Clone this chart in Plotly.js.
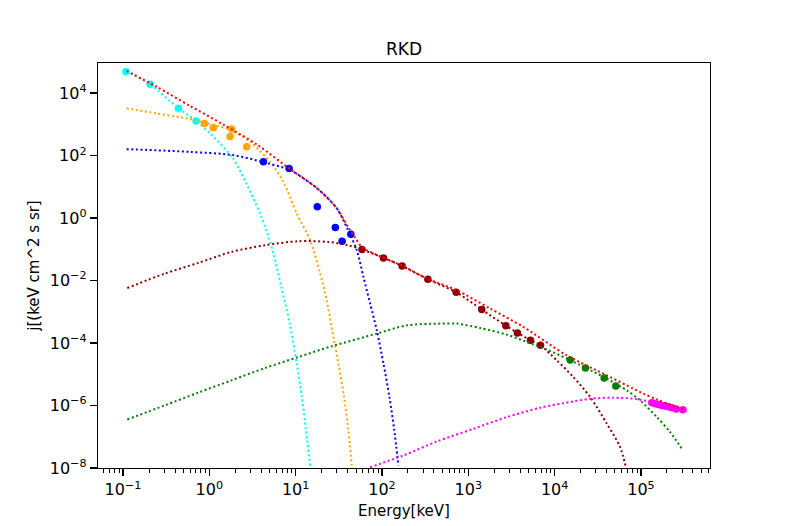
<!DOCTYPE html>
<html>
<head>
<meta charset="utf-8">
<script src="https://cdn.plot.ly/plotly-3.0.1.min.js"></script>
<style>
  html, body { margin: 0; padding: 0; background: #fff; }
  #chart { width: 789px; height: 526px; }
</style>
</head>
<body>
<div id="chart"></div>
<script>
// ---------- data points (markers) ----------
const cyanPtsX = [0.108, 0.206, 0.438, 0.702];
const cyanPtsY = [4.85e4, 1.91e4, 3.26e3, 1.28e3];

const orangePtsX = [0.875, 1.112, 1.82, 1.738, 2.71];
const orangePtsY = [1076, 778, 706, 412, 191];

const bluePtsX = [4.23, 8.40, 17.8, 28.8, 34.5, 43.6];
const bluePtsY = [63.2, 38.9, 2.29, 0.50, 0.182, 0.305];

const maroonPtsX = [58.7, 104, 171, 340, 723, 1432, 2723, 3707, 5248, 6855];
const maroonPtsY = [0.0986, 0.0530, 0.0294, 0.0110, 4.22e-3, 1.18e-3, 3.61e-4, 2.09e-4, 1.22e-4, 8.43e-5];

const greenPtsX = [15140, 22750, 37500, 51170];
const greenPtsY = [2.85e-5, 1.58e-5, 7.55e-6, 4.19e-6];

const magentaPtsX = [1.337e5, 1.462e5, 1.596e5, 1.746e5, 1.905e5, 2.084e5, 2.280e5, 2.559e5, 3.062e5];
const magentaPtsY = [1.23e-6, 1.14e-6, 1.08e-6, 1.01e-6, 9.57e-7, 9.16e-7, 8.49e-7, 7.67e-7, 7.33e-7];

// ---------- model curves (dotted) ----------
const cyanCurveX = [0.110, 0.206, 0.438, 0.702, 1.02, 1.88, 2.71, 3.87, 4.58, 5.52, 6.82, 8.55, 10.3, 11.8, 13.2, 14.7];
const cyanCurveY = [4.9e4, 1.91e4, 3.26e3, 1.28e3, 515, 81, 12.0, 1.40, 0.409, 0.0733, 6.24e-3, 4.19e-4, 2.19e-5, 1.86e-6, 1.59e-7, 1.20e-8];

const orangeCurveX = [0.110, 0.245, 0.597, 1.74, 2.96, 5.05, 7.19, 10.3, 14.7, 19.2, 22.9, 27.4, 31.3, 36.4, 40.8, 44.7];
const orangeCurveY = [3.26e3, 2.25e3, 1.48e3, 656, 277, 63.2, 14.5, 1.40, 0.196, 0.0171, 2.34e-3, 1.56e-4, 2.19e-5, 1.86e-6, 1.59e-7, 1.20e-8];

const blueCurveX = [0.110, 0.597, 1.88, 4.19, 8.61, 17.6, 29.9, 40.5, 51.1, 61.0, 72.8, 87.1, 104, 122, 139, 155];
const blueCurveY = [161, 132, 104, 61.9, 34.3, 9.08, 2.07, 0.409, 0.0935, 0.0130, 1.87e-3, 2.55e-4, 2.19e-5, 1.86e-6, 1.59e-7, 1.20e-8];

const maroonCurveX = [0.112, 0.304, 0.740, 1.80, 4.39, 10.7, 23.7, 40.5, 58.7, 104, 171, 340, 723, 1432, 2723, 5248, 6855, 10600, 16500, 25800, 40300, 57400, 66800];
const maroonCurveY = [5.79e-3, 0.0167, 0.0366, 0.0826, 0.135, 0.182, 0.173, 0.135, 0.0986, 0.0530, 0.0294, 0.0110, 4.22e-3, 1.18e-3, 3.61e-4, 1.22e-4, 8.43e-5, 2.79e-5, 8.13e-6, 1.86e-6, 2.61e-7, 4.65e-8, 1.06e-8];

const greenCurveX = [0.112, 0.304, 0.740, 1.80, 4.39, 10.7, 25.9, 87.1, 194, 471, 736, 1370, 2790, 4760, 8130, 15100, 40300, 68700, 97900, 153000, 218000, 303000];
const greenCurveY = [3.58e-7, 1.01e-6, 2.57e-6, 6.37e-6, 1.58e-5, 3.56e-5, 7.83e-5, 2.00e-4, 3.69e-4, 4.19e-4, 4.19e-4, 3.03e-4, 1.86e-4, 1.08e-4, 6.14e-5, 2.85e-5, 7.23e-6, 3.05e-6, 1.46e-6, 4.25e-7, 1.40e-7, 3.83e-8];

const magentaCurveX = [72.8, 177, 432, 1150, 2790, 6790, 16500, 25800, 48000, 81800, 140000, 238000, 306000];
const magentaCurveY = [1.06e-8, 2.52e-8, 7.06e-8, 1.80e-7, 4.25e-7, 8.49e-7, 1.35e-6, 1.65e-6, 1.78e-6, 1.65e-6, 1.26e-6, 8.49e-7, 7.50e-7];

const redCurveX = [0.110, 0.245, 0.597, 1.44, 3.54, 8.61, 17.6, 29.9, 40.5, 48.8, 58.7, 104, 171, 340, 736, 1790, 4360, 13800, 40300, 81800, 107000, 153000, 218000, 306000];
const redCurveY = [5.2e4, 1.6e4, 3.89e3, 1.0e3, 229, 37, 9.1, 2.07, 0.51, 0.24, 0.117, 0.0540, 0.0300, 0.0112, 4.89e-3, 1.27e-3, 3.26e-4, 4.04e-5, 9.23e-6, 3.45e-6, 2.39e-6, 1.57e-6, 1.06e-6, 7.5e-7];

// ---------- ticks ----------
const xTickVals = [0.1, 1, 10, 100, 1000, 10000, 100000];
const xTickText = ['10<sup>\u22121</sup>', '10<sup>0</sup>', '10<sup>1</sup>', '10<sup>2</sup>', '10<sup>3</sup>', '10<sup>4</sup>', '10<sup>5</sup>'];
const yTickVals = [1e-8, 1e-6, 1e-4, 1e-2, 1, 100, 10000];
const yTickText = ['10<sup>\u22128</sup>', '10<sup>\u22126</sup>', '10<sup>\u22124</sup>', '10<sup>\u22122</sup>', '10<sup>0</sup>', '10<sup>2</sup>', '10<sup>4</sup>'];

const COLORS = {
  cyan: '#00ffff', orange: '#ffa500', blue: '#0000ff', maroon: '#8b0000',
  green: '#008000', magenta: '#ff00ff', red: '#ff0000'
};

function pts(x, y, c) {
  return { x: x, y: y, type: 'scatter', mode: 'markers',
    marker: { color: c, size: 7.5, line: { width: 0 } }, hoverinfo: 'skip', showlegend: false };
}
function curve(x, y, c) {
  return { x: x, y: y, type: 'scatter', mode: 'lines',
    line: { color: c, width: 2, dash: '2px,2.6px', shape: 'spline', smoothing: 0.8 },
    hoverinfo: 'skip', showlegend: false };
}

const traces = [
  pts(cyanPtsX, cyanPtsY, COLORS.cyan),
  pts(orangePtsX, orangePtsY, COLORS.orange),
  pts(bluePtsX, bluePtsY, COLORS.blue),
  pts(maroonPtsX, maroonPtsY, COLORS.maroon),
  pts(greenPtsX, greenPtsY, COLORS.green),
  pts(magentaPtsX, magentaPtsY, COLORS.magenta),
  curve(cyanCurveX, cyanCurveY, COLORS.cyan),
  curve(orangeCurveX, orangeCurveY, COLORS.orange),
  curve(blueCurveX, blueCurveY, COLORS.blue),
  curve(maroonCurveX, maroonCurveY, COLORS.maroon),
  curve(greenCurveX, greenCurveY, COLORS.green),
  curve(magentaCurveX, magentaCurveY, COLORS.magenta),
  curve(redCurveX, redCurveY, COLORS.red)
];

const FONT = 'DejaVu Sans, Liberation Sans, sans-serif';

const layout = {
  width: 789, height: 526,
  margin: { l: 98, r: 79, t: 63, b: 58, pad: 0 },
  paper_bgcolor: '#ffffff', plot_bgcolor: '#ffffff',
  font: { family: FONT, color: '#000', size: 15 },
  title: { text: 'RKD', font: { family: FONT, size: 17, color: '#000' },
           x: 0.5, xref: 'paper', xanchor: 'center', y: 1 - 49 / 526, yref: 'container', yanchor: 'middle' },
  showlegend: false,
  xaxis: {
    type: 'log', range: [-1.29, 5.80],
    showgrid: false, zeroline: false,
    showline: true, mirror: true, linecolor: '#000', linewidth: 1.2,
    ticks: 'outside', ticklen: 7, tickwidth: 1.3, tickcolor: '#000',
    tickmode: 'array', tickvals: xTickVals, ticktext: xTickText,
    tickfont: { family: FONT, size: 16, color: '#000' },
    minor: { dtick: 'D1', ticks: 'outside', ticklen: 4, tickwidth: 1, tickcolor: '#000', showgrid: false },
    title: { text: 'Energy[keV]', font: { family: FONT, size: 15, color: '#000' }, standoff: 7 }
  },
  yaxis: {
    type: 'log', range: [-8, 4.965],
    showgrid: false, zeroline: false,
    showline: true, mirror: true, linecolor: '#000', linewidth: 1.2,
    ticks: 'outside', ticklen: 7, tickwidth: 1.3, tickcolor: '#000',
    tickmode: 'array', tickvals: yTickVals, ticktext: yTickText,
    tickfont: { family: FONT, size: 16, color: '#000' },
    title: { text: 'j[(keV cm^2 s sr]', font: { family: FONT, size: 15, color: '#000' }, standoff: 6 }
  }
};

Plotly.newPlot('chart', traces, layout, { staticPlot: true, displayModeBar: false });
</script>
</body>
</html>
